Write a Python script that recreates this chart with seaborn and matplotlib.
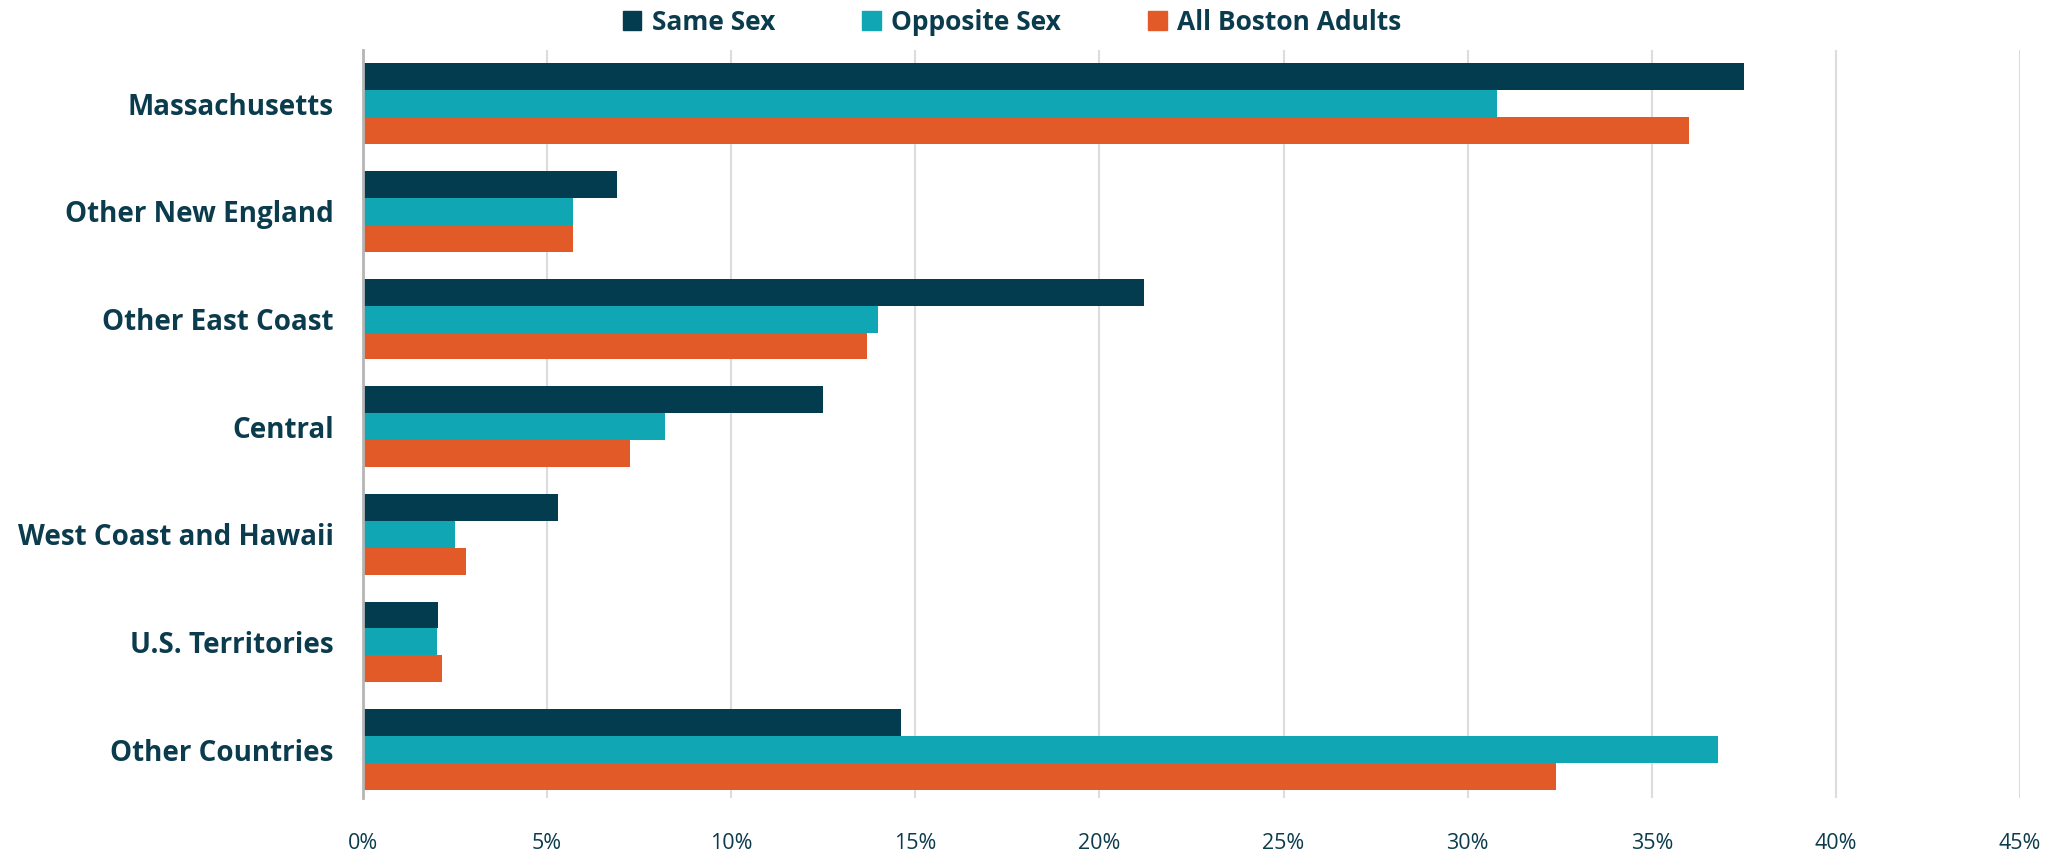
import seaborn as sns
import pandas as pd
import matplotlib.pyplot as plt
from matplotlib.ticker import FuncFormatter

# data (percent)
regions = ['Massachusetts', 'Other New England', 'Other East Coast', 'Central',
           'West Coast and Hawaii', 'U.S. Territories', 'Other Countries']
same_sex = [37.5, 6.9, 21.2, 12.5, 5.3, 2.05, 14.6]
opposite_sex = [30.8, 5.7, 14.0, 8.2, 2.5, 2.0, 36.8]
all_boston = [36.0, 5.7, 13.7, 7.25, 2.8, 2.15, 32.4]
groups = ['Same Sex', 'Opposite Sex', 'All Boston Adults']
colors = ['#033B4F', '#10A6B4', '#E25A27']
text_col = '#0B3C4E'

rows = []
for g, vals in zip(groups, [same_sex, opposite_sex, all_boston]):
    for r, v in zip(regions, vals):
        rows.append({'region': r, 'group': g, 'pct': v})
df = pd.DataFrame(rows)

sns.set_theme(style='white')
plt.rcParams['font.family'] = ['Open Sans', 'DejaVu Sans']

fig = plt.figure(figsize=(20.61, 8.52), dpi=100)
ax = fig.add_axes([0.1761, 0.0634, 0.8040, 0.8779])

sns.barplot(data=df, y='region', x='pct', hue='group', order=regions,
            hue_order=groups, palette=colors, orient='h', width=0.75,
            gap=0, saturation=1, linewidth=0, ax=ax, legend=False)

ax.set_xlim(0, 45)
ax.set_ylim(6.45, -0.5)
ax.set_xticks(range(0, 46, 5))
ax.xaxis.set_major_formatter(FuncFormatter(lambda v, p: f'{v:.0f}%'))
ax.grid(axis='x', color='#dcdcdc', linewidth=1.5)
ax.set_axisbelow(True)
ax.set_xlabel('')
ax.set_ylabel('')
for s in ['top', 'right', 'bottom']:
    ax.spines[s].set_visible(False)
ax.spines['left'].set_color('#b5b5b5')
ax.spines['left'].set_linewidth(2)

ax.tick_params(axis='x', length=0, pad=25, labelsize=15.5, labelcolor=text_col)
ax.tick_params(axis='y', length=0, pad=21, labelsize=20, labelcolor=text_col)
for t in ax.get_yticklabels():
    t.set_fontweight('bold')

handles = [plt.Rectangle((0, 0), 1, 1, color=c) for c in colors]
leg = fig.legend(handles, groups, loc='center', bbox_to_anchor=(0.491, 0.974),
                 ncol=3, frameon=False, handlelength=0.7, handleheight=0.7,
                 handletextpad=0.4, columnspacing=3.3,
                 prop={'weight': 'bold', 'size': 19})
for t in leg.get_texts():
    t.set_color(text_col)

fig.savefig('out.png', dpi=100)
